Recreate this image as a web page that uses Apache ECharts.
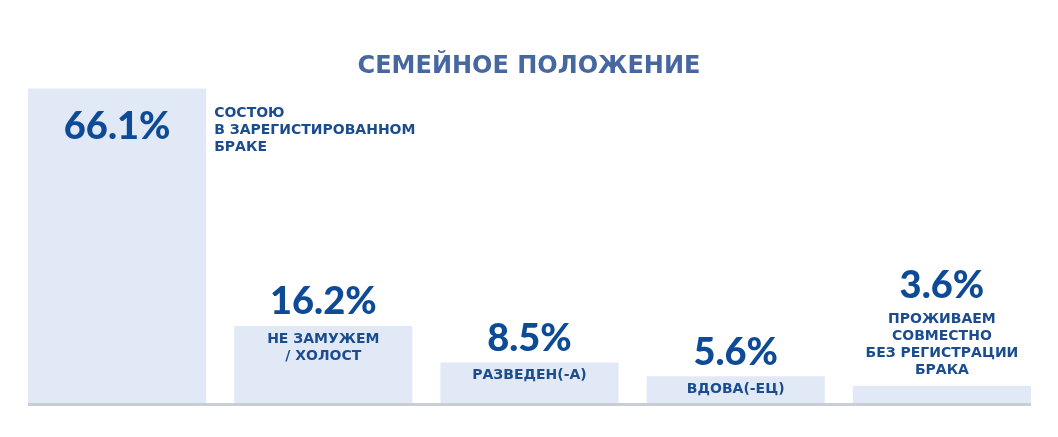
<!DOCTYPE html>
<html>
<head>
<meta charset="utf-8">
<script src="https://cdn.jsdelivr.net/npm/echarts@6/dist/echarts.min.js"></script>
<style>
  html, body {margin: 0; padding: 0; background: #fff;}
  #chart {width: 1058px; height: 437px;}
</style>
</head>
<body>
<div id="chart"></div>
<script>
const categories = [
  'СОСТОЮ\nВ ЗАРЕГИСТИРОВАННОМ\nБРАКЕ',
  'НЕ ЗАМУЖЕМ\n/ ХОЛОСТ',
  'РАЗВЕДЕН(-А)',
  'ВДОВА(-ЕЦ)',
  'ПРОЖИВАЕМ\nСОВМЕСТНО\nБЕЗ РЕГИСТРАЦИИ\nБРАКА'
];
const values = [66.1, 16.2, 8.5, 5.6, 3.6];

const barColor = '#e2e9f6';
const valueColor = '#0e4b96';
const catColor = '#1b4d8e';
const valueFont = {fontFamily: 'Lato', fontWeight: 900, fontSize: 38, color: valueColor};
const catFont = {fontFamily: 'DejaVu Sans', fontWeight: 'bold', fontSize: 14, lineHeight: 17, color: catColor};
const gap = 0.136;

const fmtValue = v => v.toFixed(1) + '%';
const last = values.length - 1;

// main bars carry the percentages
const valueData = values.map((v, i) => {
  if (i === 0) {
    return {value: v, label: {position: ['50%', 38], align: 'center', verticalAlign: 'middle'}};
  }
  if (i === last) {
    return {
      value: v,
      label: {
        distance: 7,
        formatter: '{v|' + fmtValue(v) + '}\n' + categories[i].split('\n').map(s => '{c|' + s + '}').join('\n'),
        rich: {
          v: Object.assign({}, valueFont, {lineHeight: 50}),
          c: catFont
        }
      }
    };
  }
  return {value: v};
});

// overlay carries the category captions
const catData = values.map((v, i) => {
  if (i === 0) {
    return {value: v, label: {position: ['100%', 16], align: 'left', verticalAlign: 'top', offset: [8, 0]}};
  }
  if (i === last) {
    return {value: v, label: {show: false}};
  }
  return {value: v};
});

const chart = echarts.init(document.getElementById('chart'), null, {renderer: 'canvas'});

chart.setOption({
  animation: false,
  title: {
    text: 'СЕМЕЙНОЕ ПОЛОЖЕНИЕ',
    left: 'center',
    top: 50,
    textStyle: {fontFamily: 'DejaVu Sans', fontWeight: 'bold', fontSize: 24, color: '#46679f'}
  },
  grid: {left: 14, right: 13, top: 70, bottom: 34},
  xAxis: {
    type: 'category',
    data: categories,
    axisLine: {show: false},
    axisTick: {show: false},
    axisLabel: {show: false}
  },
  yAxis: {
    type: 'value',
    min: 0,
    max: 70,
    show: false,
    splitLine: {show: false}
  },
  series: [
    {
      type: 'custom',
      silent: true,
      clip: false,
      z: 1,
      data: [[0, 0]],
      renderItem: (params, api) => {
        const start = api.coord([0, 0]);
        const end = api.coord([last, 0]);
        const barW = api.size([1, 0])[0] * (1 - gap);
        return {
          type: 'line',
          shape: {x1: start[0] - barW / 2, y1: start[1] + 1.5, x2: end[0] + barW / 2, y2: start[1] + 1.5},
          style: {stroke: '#c9cdd7', lineWidth: 3}
        };
      }
    },
    {
      type: 'bar',
      barCategoryGap: (gap * 100) + '%',
      itemStyle: {color: barColor},
      label: Object.assign({show: true, position: 'top', distance: 5, formatter: p => fmtValue(p.value)}, valueFont),
      data: valueData,
      z: 2
    },
    {
      type: 'bar',
      barGap: '-100%',
      barCategoryGap: (gap * 100) + '%',
      silent: true,
      itemStyle: {color: 'rgba(0,0,0,0)'},
      label: Object.assign({show: true, position: 'insideTop', distance: 4.5, align: 'center',
        formatter: p => categories[p.dataIndex]}, catFont),
      data: catData,
      z: 3
    }
  ]
});
</script>
</body>
</html>
